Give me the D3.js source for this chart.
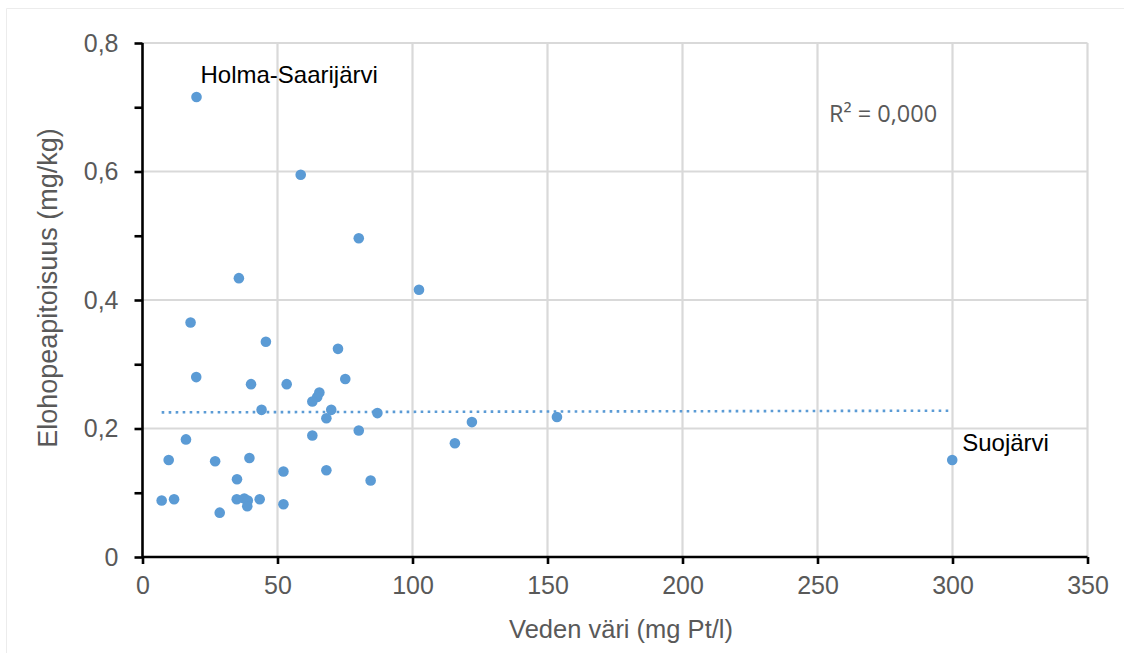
<!DOCTYPE html>
<html>
<head>
<meta charset="utf-8">
<script src="https://cdn.jsdelivr.net/npm/d3@7"></script>
<style>
  html, body { margin: 0; padding: 0; background: #fff; }
  svg { display: block; }
</style>
</head>
<body>
<svg id="chart" width="1124" height="653"></svg>
<script>
// ---- data ----
const colorValues = [20.0, 58.6, 80.1, 35.7, 102.4, 17.8, 45.7, 72.4, 19.9, 75.1,
  40.2, 53.4, 65.5, 64.7, 62.9, 44.1, 69.9, 87.0, 68.1, 80.1,
  62.9, 16.1, 9.7, 26.9, 39.6, 68.1, 52.2, 35.0, 84.5, 7.1,
  11.7, 34.9, 37.7, 39.0, 38.8, 43.4, 52.2, 28.6, 115.7, 122.0,
  153.5, 299.9];
const mercuryValues = [0.716, 0.595, 0.496, 0.434, 0.416, 0.365, 0.335, 0.324, 0.280, 0.277,
  0.269, 0.269, 0.256, 0.249, 0.242, 0.229, 0.229, 0.224, 0.216, 0.197,
  0.189, 0.183, 0.151, 0.149, 0.154, 0.135, 0.133, 0.121, 0.119, 0.088,
  0.090, 0.090, 0.091, 0.088, 0.079, 0.090, 0.082, 0.069, 0.177, 0.210,
  0.218, 0.151];
const labelNames = ["Holma-Saarijärvi", "Suojärvi"];
const labelIndex = [0, 41];
const xTicks = [0, 50, 100, 150, 200, 250, 300, 350];
const yTicks = [0, 0.2, 0.4, 0.6, 0.8];
const yMinorTicks = [0, 0.1, 0.2, 0.3, 0.4, 0.5, 0.6, 0.7, 0.8];
const xTitle = "Veden väri (mg Pt/l)";
const yTitle = "Elohopeapitoisuus  (mg/kg)";
const r2Text = "R² = 0,000";

(function () {
// ---- layout ----
const svg = d3.select("#chart");
const pLeft = 142.5, pRight = 1087.5, pTop = 43, pBottom = 557;
const x = d3.scaleLinear().domain([0, 350]).range([pLeft, pRight]);
const y = d3.scaleLinear().domain([0, 0.8]).range([pBottom, pTop]);
const tickFmt = d => d === 0 ? "0" : d3.format(".1f")(d).replace(".", ",");
const font = "'Liberation Sans', Arial, sans-serif";
const textGrey = "#595959";
const blue = "#5B9BD5";

// outer frame (faint)
svg.append("line").attr("x1", 6.5).attr("x2", 1124).attr("y1", 8.5).attr("y2", 8.5)
  .attr("stroke", "#ececec").attr("stroke-width", 1);
svg.append("line").attr("x1", 6.5).attr("x2", 6.5).attr("y1", 8.5).attr("y2", 653)
  .attr("stroke", "#ececec").attr("stroke-width", 1);

// gridlines
const grid = svg.append("g");
grid.selectAll(".gx").data(xTicks.filter(d => d > 0)).join("line")
  .attr("x1", d => x(d)).attr("x2", d => x(d)).attr("y1", pTop).attr("y2", pBottom)
  .attr("stroke", "#d9d9d9").attr("stroke-width", 2.2);
grid.selectAll(".gy").data(yTicks.filter(d => d > 0)).join("line")
  .attr("x1", pLeft).attr("x2", pRight).attr("y1", d => y(d)).attr("y2", d => y(d))
  .attr("stroke", "#d9d9d9").attr("stroke-width", 2.2);

// axes
const xAxis = d3.axisBottom(x).tickValues(xTicks).tickSize(7).tickPadding(12).tickFormat(d => d);
const gx = svg.append("g").attr("transform", `translate(0,${pBottom})`).call(xAxis);
gx.select(".domain").attr("stroke", "#000").attr("stroke-width", 2.6).attr("d", `M${pLeft},0H${pRight}`);
gx.selectAll(".tick line").attr("stroke", "#000").attr("stroke-width", 2.6);
gx.selectAll(".tick text").attr("fill", textGrey).style("font-family", font).style("font-size", "25px");

const yAxisMinor = d3.axisLeft(y).tickValues(yMinorTicks).tickSize(8).tickFormat("");
const gyMinor = svg.append("g").attr("transform", `translate(${pLeft},0)`).call(yAxisMinor);
gyMinor.select(".domain").attr("stroke", "#000").attr("stroke-width", 2.6).attr("d", `M0,${pTop}V${pBottom}`);
gyMinor.selectAll(".tick line").attr("stroke", "#000").attr("stroke-width", 2.6);

const yAxis = d3.axisLeft(y).tickValues(yTicks).tickSize(0).tickPadding(24).tickFormat(tickFmt);
const gy = svg.append("g").attr("transform", `translate(${pLeft},0)`).call(yAxis);
gy.select(".domain").remove();
gy.selectAll(".tick text").attr("fill", textGrey).style("font-family", font).style("font-size", "25px");

// trendline (least squares)
const n = colorValues.length;
const mx = d3.mean(colorValues), my = d3.mean(mercuryValues);
let sxy = 0, sxx = 0;
for (let i = 0; i < n; i++) { sxy += (colorValues[i] - mx) * (mercuryValues[i] - my); sxx += (colorValues[i] - mx) ** 2; }
const slope = sxy / sxx, intercept = my - slope * mx;
const [xmin, xmax] = d3.extent(colorValues);
const trend = [xmin, xmax].map(v => [v, intercept + slope * v]);
svg.append("path").datum(trend)
  .attr("d", d3.line().x(d => x(d[0])).y(d => y(d[1])))
  .attr("fill", "none").attr("stroke", blue).attr("stroke-width", 2.6)
  .attr("stroke-dasharray", "2.6,4.4");

// points
const pts = d3.range(n).map(i => ({ cx: colorValues[i], cy: mercuryValues[i] }));
svg.append("g").selectAll("circle").data(pts).join("circle")
  .attr("cx", d => x(d.cx)).attr("cy", d => y(d.cy)).attr("r", 5.3)
  .attr("fill", blue);

// point labels
svg.append("text").attr("x", x(colorValues[labelIndex[0]]) + 4).attr("y", y(mercuryValues[labelIndex[0]]) - 14)
  .text(labelNames[0]).attr("fill", "#000").style("font-family", font).style("font-size", "24px");
svg.append("text").attr("x", x(colorValues[labelIndex[1]]) + 10).attr("y", y(mercuryValues[labelIndex[1]]) - 9)
  .text(labelNames[1]).attr("fill", "#000").style("font-family", font).style("font-size", "24px");

// R² text
svg.append("text").attr("x", 829).attr("y", 122).text(r2Text)
  .attr("fill", textGrey).style("font-family", "'Open Sans', 'Liberation Sans', sans-serif").style("font-size", "23.5px");

// axis titles
svg.append("text").attr("x", 621).attr("y", 638).attr("text-anchor", "middle").text(xTitle)
  .attr("fill", textGrey).style("font-family", font).style("font-size", "25.5px");
svg.append("text").attr("transform", `translate(57,${288})rotate(-90)`).attr("text-anchor", "middle").text(yTitle)
  .attr("fill", textGrey).style("font-family", font).style("font-size", "27px");
})();
</script>
</body>
</html>
